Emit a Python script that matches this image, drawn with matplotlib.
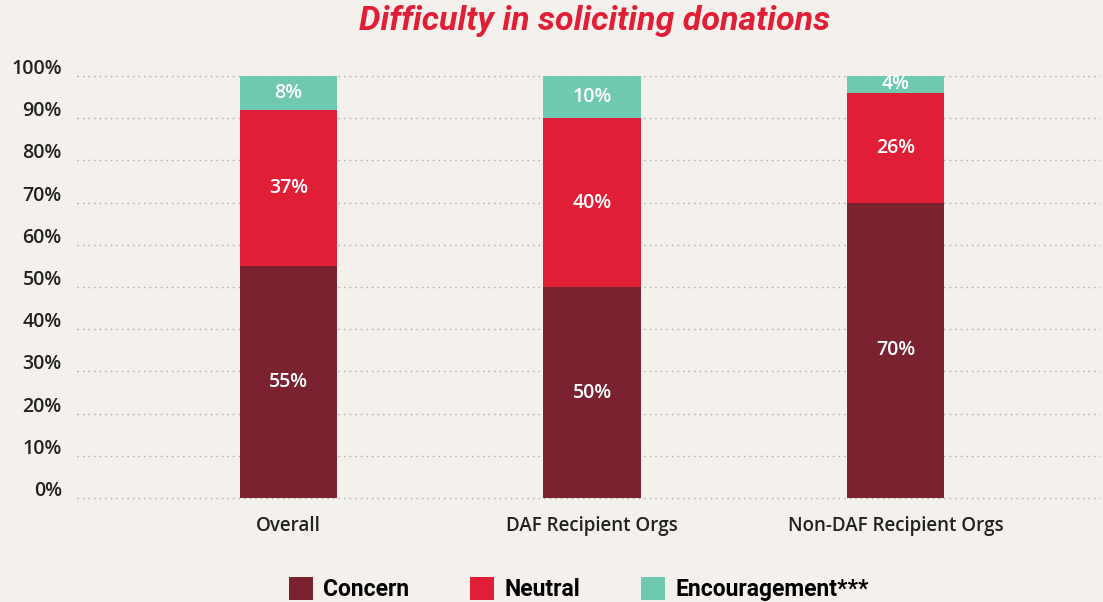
import matplotlib.pyplot as plt
import matplotlib.transforms as mtransforms
from matplotlib.patches import Patch
import numpy as np

groups = ['Overall', 'DAF Recipient Orgs', 'Non-DAF Recipient Orgs']
concern = [55, 50, 70]
neutral = [37, 40, 26]
encouragement = [8, 10, 4]
series_names = ['Concern', 'Neutral', 'Encouragement***']
colors = ['#7a2230', '#e01f37', '#6fc8b0']
yticks = [0, 10, 20, 30, 40, 50, 60, 70, 80, 90, 100]

bg = '#f4f1ed'
fig = plt.figure(figsize=(11.03, 6.02), dpi=100, facecolor=bg)
ax = fig.add_axes([77/1103, 1 - 498/602, 1023/1103, 422/602])
ax.set_facecolor(bg)

x = np.arange(len(groups))
bottom = np.zeros(len(groups))
for vals, col in zip([concern, neutral, encouragement], colors):
    bars = ax.bar(x, vals, 0.32, bottom=bottom, color=col, zorder=3)
    for b, v in zip(bars, vals):
        ax.text(b.get_x() + b.get_width()/2, b.get_y() + b.get_height()/2, f'{v}%',
                ha='center', va='center', color='white', fontsize=14,
                family='Open Sans', fontweight=600, zorder=4)
    bottom += np.array(vals)

ax.set_xlim(-0.697, 2.674)
ax.set_ylim(0, 100)
ax.set_yticks(yticks)
ax.set_yticklabels([f'{t}%' for t in yticks])
ax.tick_params(axis='y', length=0, pad=11, labelsize=14, labelcolor='#222222')
ax.tick_params(axis='x', length=0, pad=13, labelsize=13.5, labelcolor='#222222')
ax.set_xticks(x)
ax.set_xticklabels(groups)
# y labels sit just above their grid line
shift = mtransforms.ScaledTranslation(0, 2/100, fig.dpi_scale_trans)
for t in ax.get_yticklabels():
    t.set_verticalalignment('baseline')
    t.set_transform(t.get_transform() + shift)
for t in ax.get_xticklabels() + ax.get_yticklabels():
    t.set_family('Open Sans')
    t.set_fontweight(600)
for s in ax.spines.values():
    s.set_visible(False)
ax.grid(axis='y', color='#aaaaaa', linestyle=(0, (1, 3)), linewidth=1, zorder=0)
for gl in ax.get_ygridlines():
    gl.set_clip_on(False)

fig.text(0.539, 0.965, 'Difficulty in soliciting donations', ha='center', va='center',
         color='#e01f37', fontsize=24.5, fontweight='bold', fontstyle='italic',
         family='Roboto')

handles = [Patch(facecolor=c) for c in colors]
fig.legend(handles, series_names, loc='center', bbox_to_anchor=(0.525, 0.021),
           ncol=3, frameon=False, handlelength=1.05, handleheight=1.15,
           handletextpad=0.45, columnspacing=2.65,
           prop={'family': 'Roboto', 'weight': 'bold', 'size': 16.5})

fig.savefig('out.png', dpi=100, facecolor=bg)
